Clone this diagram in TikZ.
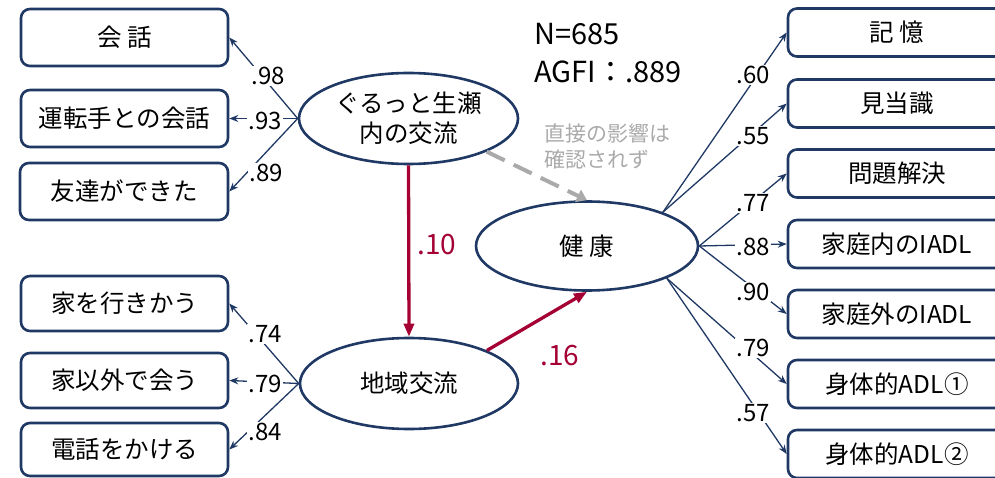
\documentclass[tikz,border=0pt]{standalone}
\usepackage{fontspec}
\setmainfont{Noto Sans CJK JP}
\usetikzlibrary{shapes.geometric,arrows.meta}
\definecolor{navy}{RGB}{31,56,100}
\definecolor{crim}{RGB}{165,0,52}
\definecolor{lgray}{RGB}{170,170,170}
\begin{document}
\begin{tikzpicture}[x=1pt,y=-1pt,
  obs/.style={draw=navy, line width=2.6pt, rounded corners=9pt, inner sep=0pt,
    font=\fontsize{24.5}{29}\selectfont, fill=white},
  lat/.style={ellipse, draw=navy, line width=2.6pt, inner sep=0pt, align=center,
    font=\fontsize{24.5}{30}\selectfont, fill=white},
  ld/.style={draw=navy, line width=1.3pt, -{Stealth[length=9pt,width=7pt]}},
  rd/.style={draw=crim, line width=3.3pt, -{Triangle[length=13pt,width=10pt]}},
  lab/.style={fill=white, inner sep=1.5pt, font=\fontsize{24}{28}\selectfont},
  rlab/.style={text=crim, inner sep=1pt, font=\fontsize{28}{32}\selectfont},
  gtext/.style={text=lgray, inner sep=0pt, anchor=west, font=\fontsize{21}{26}\selectfont},
  stat/.style={inner sep=0pt, anchor=base west, font=\fontsize{29}{34}\selectfont}
]
\useasboundingbox (0,0) rectangle (995,478);
\clip (0,0) rectangle (995,478);

% left observed boxes
\node[obs, minimum width=207pt, minimum height=57pt] (b1) at (124.5,37.5) {会 話};
\node[obs, minimum width=207pt, minimum height=57pt] (b2) at (124.5,118.5) {運転手との会話};
\node[obs, minimum width=208pt, minimum height=57pt] (b3) at (124,191.5) {友達ができた};
\node[obs, minimum width=207pt, minimum height=55pt] (b4) at (124.5,303.5) {家を行きかう};
\node[obs, minimum width=207pt, minimum height=55pt] (b5) at (124.5,380.5) {家以外で会う};
\node[obs, minimum width=207pt, minimum height=53pt] (b6) at (124.5,449.5) {電話をかける};

% right observed boxes
\node[obs, minimum width=218pt, minimum height=48pt] (r1) at (897,32.5) {記 憶};
\node[obs, minimum width=218pt, minimum height=48pt] (r2) at (897,103.5) {見当識};
\node[obs, minimum width=218pt, minimum height=48pt] (r3) at (897,173.5) {問題解決};
\node[obs, minimum width=218pt, minimum height=48pt] (r4) at (897,244) {家庭内のIADL};
\node[obs, minimum width=218pt, minimum height=48pt] (r5) at (897,314) {家庭外のIADL};
\node[obs, minimum width=218pt, minimum height=48pt] (r6) at (897,384) {身体的ADL①};
\node[obs, minimum width=218pt, minimum height=48pt] (r7) at (897,454) {身体的ADL②};

% latent ellipses
\node[lat, minimum width=219pt, minimum height=91pt] (g) at (408.5,118.5) {ぐるっと生瀬\\内の交流};
\node[lat, minimum width=222pt, minimum height=89pt] (k) at (587,246) {健 康};
\node[lat, minimum width=218pt, minimum height=91pt] (c) at (409,383.5) {地域交流};

% left loadings
\draw[ld] (g.west) -- (b1.east);
\draw[ld] (g.west) -- (b2.east);
\draw[ld] (g.west) -- (b3.east);
\draw[ld] (c.west) -- (b4.east);
\draw[ld] (c.west) -- (b5.east);
\draw[ld] (c.west) -- (b6.east);

% right loadings
\draw[ld] (k.24) -- (r1.west);
\draw[ld] (k.24) -- (r2.west);
\draw[ld] (k.east) -- (r3.west);
\draw[ld] (k.east) -- (r4.west);
\draw[ld] (k.east) -- (r5.west);
\draw[ld] (k.-22) -- (r6.west);
\draw[ld] (k.-22) -- (r7.west);

% structural paths
\draw[rd] (g.south) -- (c.north);
\draw[rd] (c.23) -- (k.south);
\draw[draw=lgray, line width=4pt, dash pattern=on 20pt off 10pt,
  -{Triangle[length=10pt,width=13pt]}] (g.-23) -- (k.north);

% labels
\node[lab] (l98) at (268,76) {.98};
\node[lab] (l93) at (265,121) {.93};
\node[lab] (l89) at (266,173) {.89};
\node[lab] (l74) at (265,334) {.74};
\node[lab] (l79a) at (265,384) {.79};
\node[lab] (l84) at (265,432) {.84};
\node[lab] (l60) at (753,75) {.60};
\node[lab] (l55) at (753,136) {.55};
\node[lab] (l77) at (753,203) {.77};
\node[lab] (l88) at (753,247) {.88};
\node[lab] (l90) at (753,292) {.90};
\node[lab] (l79b) at (753,348) {.79};
\node[lab] (l57) at (753,413) {.57};
\node[rlab] (l10) at (437,245) {.10};
\node[rlab] (l16) at (560,356) {.16};

% notes
\node[gtext] (n1) at (544,133.5) {直接の影響は};
\node[gtext] (n2) at (544,160) {確認されず};
\node[stat] (s1) at (534,45) {N=685};
\node[stat] (s2) at (534,83) {AGFI：.889};
\end{tikzpicture}
\end{document}
